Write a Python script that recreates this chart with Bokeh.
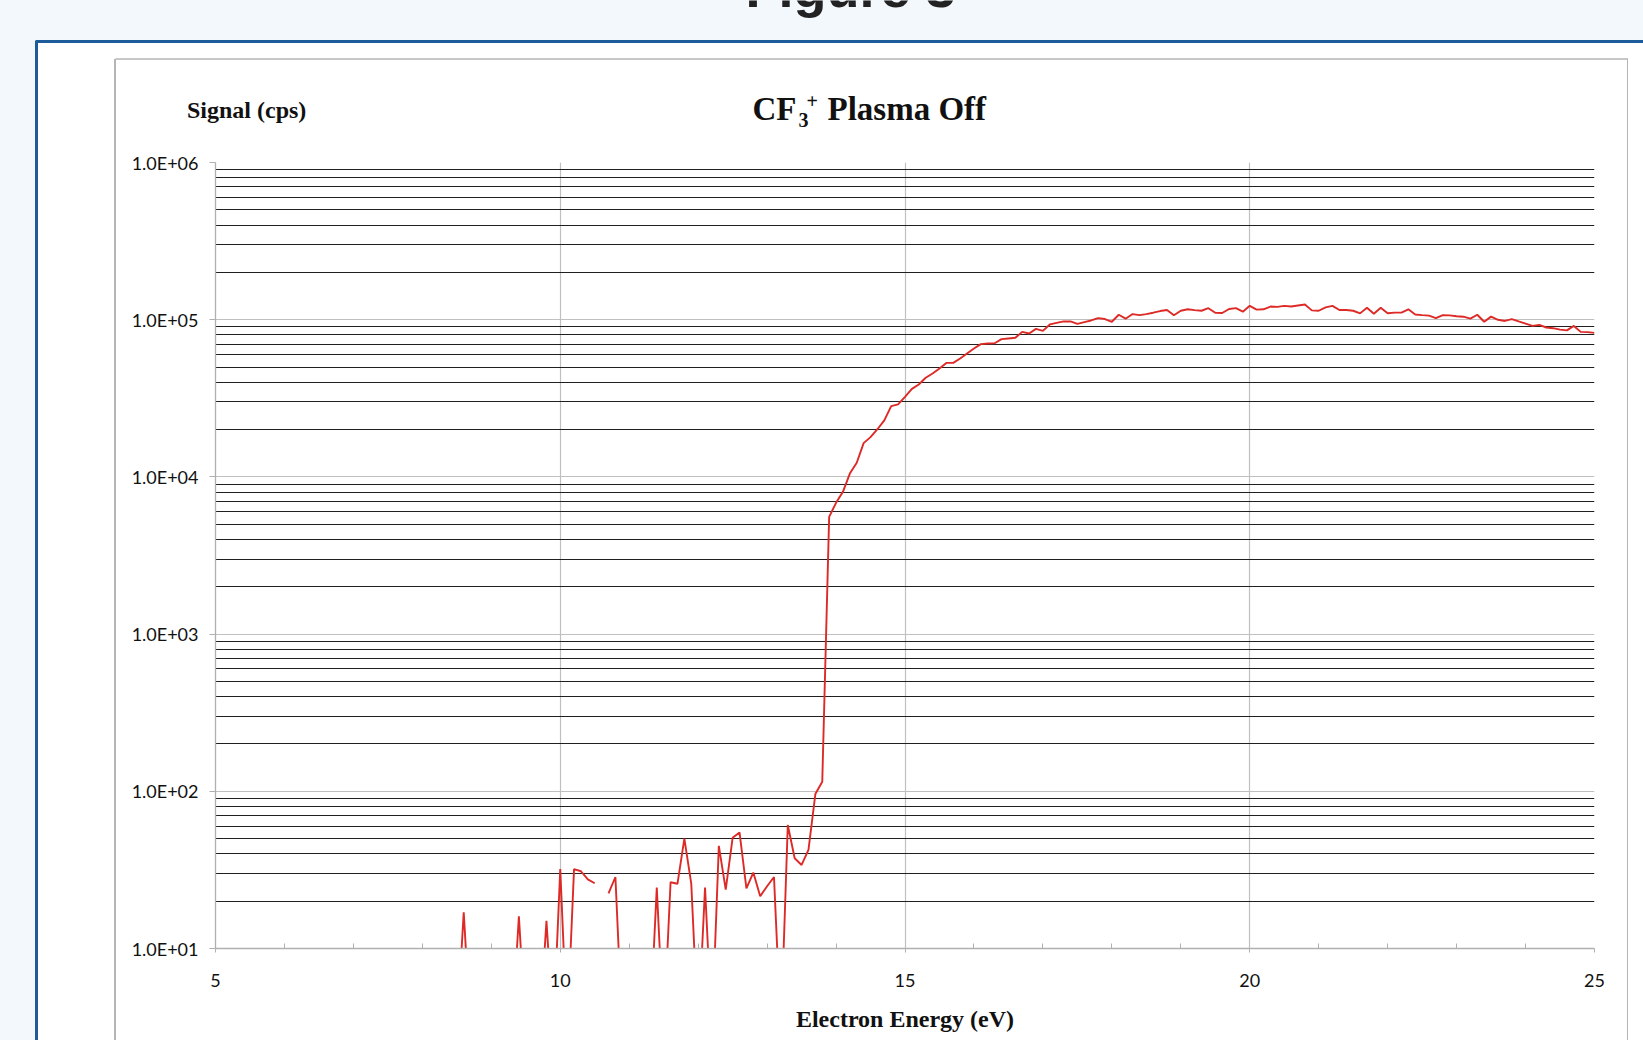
from bokeh.plotting import figure
from bokeh.layouts import column, row
from bokeh.models import FixedTicker, CustomJSTickFormatter, Range1d
from bokeh.core.properties import value
from bokeh.embed import file_html
from bokeh.resources import INLINE

# ---------------- data ----------------
energy_ev = [
    8.5, 8.6, 8.7, 8.8, 8.9, 9.0, 9.1, 9.2, 9.3, 9.4, 9.5, 9.6, 9.7, 9.8, 9.9,
    10.0, 10.1, 10.2, 10.3, 10.4, 10.5, 10.6, 10.7, 10.8, 10.9,
    11.0, 11.1, 11.2, 11.3, 11.4, 11.5, 11.6, 11.7, 11.8, 11.9,
    12.0, 12.1, 12.2, 12.3, 12.4, 12.5, 12.6, 12.7, 12.8, 12.9,
    13.0, 13.1, 13.2, 13.3, 13.4, 13.5, 13.6, 13.7, 13.8, 13.9,
    14.0, 14.1, 14.2, 14.3, 14.4, 14.5, 14.6, 14.7, 14.8, 14.9,
    15.0, 15.1, 15.2, 15.3, 15.4, 15.5, 15.6, 15.7, 15.8, 15.9,
    16.0, 16.1, 16.2, 16.3, 16.4, 16.5, 16.6, 16.7, 16.8, 16.9,
    17.0, 17.1, 17.2, 17.3, 17.4, 17.5, 17.6, 17.7, 17.8, 17.9,
    18.0, 18.1, 18.2, 18.3, 18.4, 18.5, 18.6, 18.7, 18.8, 18.9,
    19.0, 19.1, 19.2, 19.3, 19.4, 19.5, 19.6, 19.7, 19.8, 19.9,
    20.0, 20.1, 20.2, 20.3, 20.4, 20.5, 20.6, 20.7, 20.8, 20.9,
    21.0, 21.1, 21.2, 21.3, 21.4, 21.5, 21.6, 21.7, 21.8, 21.9,
    22.0, 22.1, 22.2, 22.3, 22.4, 22.5, 22.6, 22.7, 22.8, 22.9,
    23.0, 23.1, 23.2, 23.3, 23.4, 23.5, 23.6, 23.7, 23.8, 23.9,
    24.0, 24.1, 24.2, 24.3, 24.4, 24.5, 24.6, 24.7, 24.8, 24.9,
    25.0,
]
NaN = float("nan")
signal_cps = [
    3, 17, 3, 3, 3, 3, 3, 3, 3, 16, 3, 3, 3, 15, 3,
    32, 3, 32, 31, 27.5, 26, NaN, 22.4, 28.5, 3,
    3, 3, 3, 3, 24.4, 3, 26.4, 25.8, 50, 25.9,
    3, 24.4, 3, 45, 23.7, 50.6, 54.7, 24.1, 30.4, 21.5,
    24.9, 28.5, 3, 61, 37.5, 34, 42.4, 96, 115, 5570,
    6840, 8040, 10500, 12300, 16400, 17900, 20100, 22900, 28200, 28900,
    32300, 36300, 38700, 42700, 45500, 49000, 53100, 53100, 56600, 61000,
    65600, 69900, 70500, 70800, 75200, 76000, 76700, 83700, 81700, 87400,
    84900, 93300, 95500, 97500, 97500, 94000, 96500, 98900, 102400, 101000,
    97000, 107500, 101500, 108600, 107000, 108600, 110800, 113500, 115300, 106700,
    114000, 116500, 115000, 114000, 118400, 110800, 110300, 117000, 118400, 112400,
    122500, 115900, 116500, 121300, 120600, 122500, 121300, 123200, 125000, 114600,
    114000, 119700, 122500, 115300, 115300, 114000, 109700, 119000, 109000, 119000,
    110000, 111000, 111000, 116500, 108000, 107000, 106200, 102400, 107000, 106500,
    105200, 104500, 101500, 107500, 97000, 104600, 99900, 98200, 100900, 97500,
    94500, 91300, 92700, 89200, 88300, 86400, 85500, 91300, 83700, 83300,
    82400,
]
x_ticks = [5, 10, 15, 20, 25]
x_minor = [6, 7, 8, 9, 11, 12, 13, 14, 16, 17, 18, 19, 21, 22, 23, 24]
y_ticks = [1e1, 1e2, 1e3, 1e4, 1e5, 1e6]
y_minor = [m * d for d in [1e1, 1e2, 1e3, 1e4, 1e5] for m in range(2, 10)]

page_heading = "Figure 3"
title_parts = ["CF", "3", "+", "Plasma Off"]
y_title = "Signal (cps)"
x_title = "Electron Energy (eV)"

# ---------------- geometry (page pixels) ----------------
PW, PH = 1643, 1040
HH = 145            # header height
MH = PH - HH

PAGE_BG = "#f3f8fc"
BLUE = "#1d5c9b"
GREY_BOX = "#b5b5b5"
INK = "#111111"
SERIF = "Liberation Serif"


def base(y, size):
    # text glyph y for a wanted baseline (empirical offset of the renderer)
    return y - 0.35 * size


# header (page y 0..HH), transparent so the page strips behind it show through
hdr = figure(width=PW, height=HH, x_range=Range1d(0, PW), y_range=Range1d(HH, 0),
             x_axis_location=None, y_axis_location=None, min_border=0,
             output_backend="svg", toolbar_location=None)
hdr.outline_line_color = None
hdr.border_fill_color = None
hdr.background_fill_color = None
hdr.grid.visible = False
hdr.quad(left=[-10], right=[PW + 10], top=[-10], bottom=[40], fill_color=PAGE_BG, line_color=None)
hdr.quad(left=[37.5], right=[PW + 10], top=[42], bottom=[58.5], fill_color="white", line_color=None)
hdr.quad(left=[35], right=[PW + 10], top=[39.5], bottom=[42.5], fill_color=BLUE, line_color=None)
hdr.segment(x0=[115], y0=[58.5], x1=[1627.5], y1=[58.5], line_color=GREY_BOX, line_width=1.3)
hdr.text(x=[850], y=[base(6, 54)], text=[page_heading], text_font=value("Liberation Sans"),
         text_font_style="bold", text_font_size="54px", text_color="#222222",
         text_align="center", text_baseline="alphabetic")
hdr.text(x=[186.5], y=[base(118, 24)], text=[y_title], text_font=value(SERIF), text_font_style="bold",
         text_font_size="24px", text_color=INK, text_align="left", text_baseline="alphabetic")
tb = 120
hdr.text(x=[752, 827], y=[base(tb, 33)] * 2, text=[title_parts[0], title_parts[3]],
         text_font=value(SERIF), text_font_style="bold", text_font_size="33px", text_color=INK,
         text_align="left", text_baseline="alphabetic")
hdr.text(x=[798], y=[base(tb + 6, 20)], text=[title_parts[1]], text_font=value(SERIF),
         text_font_style="bold", text_font_size="20px", text_color=INK,
         text_align="left", text_baseline="alphabetic")
hdr.text(x=[806], y=[base(tb - 13, 20)], text=[title_parts[2]], text_font=value(SERIF),
         text_font_style="bold", text_font_size="20px", text_color=INK,
         text_align="left", text_baseline="alphabetic")

# ---------------- main chart ----------------
p = figure(width=PW, height=MH, y_axis_type="log",
           x_range=Range1d(5, 25), y_range=Range1d(1e1, 1e6),
           output_backend="svg", toolbar_location=None,
           min_border_left=215, min_border_right=PW - 1594, min_border_top=17, min_border_bottom=92)
p.border_fill_color = None
p.background_fill_color = "white"
p.outline_line_color = None

p.xaxis.ticker = FixedTicker(ticks=x_ticks, minor_ticks=x_minor)
p.yaxis.ticker = FixedTicker(ticks=y_ticks, minor_ticks=y_minor)
p.yaxis.formatter = CustomJSTickFormatter(code="""
const s = tick.toExponential(1).toUpperCase();
return s.replace(/E([+-])(\\d)$/, (m, a, b) => "E" + a + "0" + b);
""")
for ax in (p.xaxis, p.yaxis):
    ax.axis_line_color = "#b0b0b0"
    ax.axis_line_width = 1.3
    ax.major_tick_line_color = "#b0b0b0"
    ax.minor_tick_line_color = "#b0b0b0"
    ax.major_label_text_font = "Lato"
    ax.major_label_text_font_size = "18px"
    ax.major_label_text_color = INK
p.xaxis.major_tick_out = 4
p.xaxis.major_tick_in = 0
p.xaxis.minor_tick_in = 5
p.xaxis.minor_tick_out = 0
p.xaxis.major_label_standoff = 21
p.xaxis.axis_label = x_title
p.xaxis.axis_label_text_font = SERIF
p.xaxis.axis_label_text_font_style = "bold"
p.xaxis.axis_label_text_font_size = "24px"
p.xaxis.axis_label_text_color = INK
p.xaxis.axis_label_standoff = 16
p.yaxis.major_tick_out = 6
p.yaxis.major_tick_in = 0
p.yaxis.minor_tick_in = 0
p.yaxis.minor_tick_out = 0
p.yaxis.major_label_standoff = 11

p.xgrid.grid_line_color = "#c0c0c0"
p.xgrid.grid_line_width = 1.2
p.ygrid.grid_line_color = "#c0c0c0"
p.ygrid.grid_line_width = 1.2
p.ygrid.minor_grid_line_color = "#202020"
p.ygrid.minor_grid_line_width = 1

p.line(energy_ev, signal_cps, line_color="#de2a26", line_width=1.9)

layout = column(hdr, row(p))
# page strips behind both parts (below the blue rule): left page margin, blue rule,
# grey chart box sides; the page tint fills the rest
layout.styles = {
    "background-color": PAGE_BG,
    "background-repeat": "no-repeat",
    "background-position": "0px 41px",
    "background-size": "100% 1100px",
    "background-image": (
        f"linear-gradient(to right, {PAGE_BG} 0px, {PAGE_BG} 35px, {BLUE} 35px, {BLUE} 37.5px, "
        f"#ffffff 37.5px, #ffffff 114.4px, {GREY_BOX} 114.4px, {GREY_BOX} 115.7px, "
        f"#ffffff 115.7px, #ffffff 1626.9px, {GREY_BOX} 1626.9px, {GREY_BOX} 1628.2px, "
        f"#ffffff 1628.2px, #ffffff 100%)"
    ),
}
open("out.html", "w").write(file_html(layout, INLINE))
